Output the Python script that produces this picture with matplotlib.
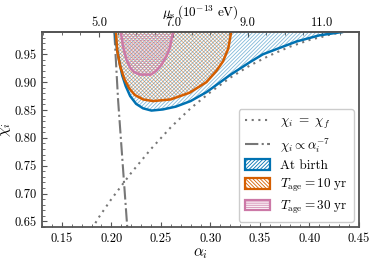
import matplotlib
matplotlib.use("Agg")
import matplotlib.pyplot as plt
from matplotlib.patches import Patch
from matplotlib.lines import Line2D
from matplotlib.ticker import MultipleLocator, AutoMinorLocator

plt.rcParams['font.family'] = 'serif'
plt.rcParams['font.serif'] = ['cmr10']
plt.rcParams['mathtext.fontset'] = 'cm'
plt.rcParams['axes.formatter.use_mathtext'] = True
plt.rcParams['hatch.linewidth'] = 0.6

# --- data ---
blue_alpha = [0.2035, 0.2055, 0.2080, 0.2110, 0.2145, 0.2190, 0.2250, 0.2320, 0.2405, 0.2520,
              0.2650, 0.2800, 0.2960, 0.3100, 0.3200, 0.3400, 0.3530, 0.3870, 0.4100, 0.4330]
blue_chi = [0.990, 0.962, 0.937, 0.912, 0.893, 0.875, 0.861, 0.853, 0.849, 0.851,
            0.856, 0.866, 0.882, 0.900, 0.913, 0.936, 0.950, 0.973, 0.984, 0.990]

orange_alpha = [0.2045, 0.2060, 0.2090, 0.2130, 0.2180, 0.2237, 0.2320, 0.2420, 0.2600,
                0.2790, 0.2960, 0.3060, 0.3128, 0.3180, 0.3210]
orange_chi = [0.990, 0.955, 0.928, 0.906, 0.889, 0.877, 0.869, 0.866, 0.869,
              0.881, 0.900, 0.920, 0.9375, 0.960, 0.990]

pink_alpha = [0.2095, 0.2120, 0.2153, 0.2190, 0.2230, 0.2290, 0.2400, 0.2450, 0.2506,
              0.2560, 0.2590, 0.2623]
pink_chi = [0.990, 0.962, 0.940, 0.926, 0.918, 0.9135, 0.9135, 0.920, 0.931,
            0.948, 0.961, 0.990]

dotted_alpha = [0.170, 0.178, 0.188, 0.200, 0.220, 0.240, 0.260, 0.280, 0.300, 0.320,
                0.340, 0.360, 0.380, 0.400, 0.420, 0.440, 0.460]
dotted_chi = [0.606, 0.630, 0.659, 0.690, 0.737, 0.780, 0.819, 0.853, 0.882, 0.908,
              0.930, 0.948, 0.9635, 0.9756, 0.985, 0.992, 0.997]

dashdot_alpha = [0.2030, 0.2068, 0.2126, 0.2160, 0.2170]
dashdot_chi = [0.990, 0.868, 0.725, 0.641, 0.620]

mu_ticks = [5.0, 7.0, 9.0, 11.0]
alpha_per_mu = 0.0375

blue = '#0072b2'
orange = '#d55e00'
pink = '#cc79a7'
gray = '#777777'
spine = '#555555'

HB = '/' * 9
HO = '\\' * 9
HP = '-' * 8

fig = plt.figure(figsize=(3.74, 2.60), dpi=100)
ax = fig.add_axes([42/374, 1 - 227/260, (359 - 42)/374, (227 - 32)/260])

top = 0.99
ax.fill_between(blue_alpha, blue_chi, top, facecolor='none', edgecolor=blue,
                alpha=0.5, hatch=HB, linewidth=0)
ax.fill_between(orange_alpha, orange_chi, top, facecolor='none', edgecolor=orange,
                alpha=0.5, hatch=HO, linewidth=0)
ax.fill_between(pink_alpha, pink_chi, top, facecolor='none', edgecolor=pink,
                alpha=0.6, hatch=HP, linewidth=0)

ax.plot(dotted_alpha, dotted_chi, linestyle=(0, (1, 2.2)), color=gray, lw=1.5)
ax.plot(dashdot_alpha, dashdot_chi, linestyle='-.', color=gray, lw=1.5)
ax.plot(blue_alpha, blue_chi, color=blue, lw=1.8)
ax.plot(orange_alpha, orange_chi, color=orange, lw=1.8)
ax.plot(pink_alpha, pink_chi, color=pink, lw=1.8)

ax.set_xlim(0.13, 0.45)
ax.set_ylim(0.64, 0.99)
ax.xaxis.set_major_locator(MultipleLocator(0.05))
ax.xaxis.set_minor_locator(MultipleLocator(0.01))
ax.yaxis.set_major_locator(MultipleLocator(0.05))
ax.yaxis.set_minor_locator(MultipleLocator(0.01))
ax.xaxis.set_major_formatter(plt.FormatStrFormatter('%.2f'))
ax.yaxis.set_major_formatter(plt.FormatStrFormatter('%.2f'))
ax.tick_params(which='both', direction='in', top=False, right=False,
               labelsize=9, color=spine, pad=4)
ax.tick_params(which='major', length=3.5)
ax.tick_params(which='minor', length=2)
for s in ax.spines.values():
    s.set_color(spine)
    s.set_linewidth(1.3)

ax.set_xlabel(r'$\alpha_i$', fontsize=11, labelpad=1)
ax.set_ylabel(r'$\chi_i$', fontsize=11, labelpad=1)

sec = ax.secondary_xaxis('top', functions=(lambda a: a / alpha_per_mu,
                                           lambda m: m * alpha_per_mu))
sec.set_xticks(mu_ticks)
sec.xaxis.set_major_formatter(plt.FormatStrFormatter('%.1f'))
sec.xaxis.set_minor_locator(AutoMinorLocator(4))
sec.tick_params(which='both', direction='in', labelsize=9, color=spine, pad=2)
sec.tick_params(which='major', length=3.5)
sec.tick_params(which='minor', length=2)
sec.spines['top'].set_color(spine)
sec.spines['top'].set_linewidth(1.3)
sec.set_xlabel(r'$\mu_s\,(10^{-13}\ \mathrm{eV})$', fontsize=9.5, labelpad=0.5)

handles = [
    Line2D([], [], linestyle=(0, (1, 2.2)), color=gray, lw=1.5),
    Line2D([], [], linestyle='-.', color=gray, lw=1.5),
    Patch(facecolor='white', edgecolor=blue, hatch=HB, lw=1.6),
    Patch(facecolor='white', edgecolor=orange, hatch=HO, lw=1.6),
    Patch(facecolor='white', edgecolor=pink, hatch=HP, lw=1.6),
]
labels = [r'$\chi_i \ =\ \chi_f$', r'$\chi_i \propto \alpha_i^{-7}$', 'At birth',
          r'$T_{\rm age} = 10\ \mathrm{yr}$', r'$T_{\rm age} = 30\ \mathrm{yr}$']
ax.legend(handles, labels, loc='lower right', fontsize=9.5, framealpha=1,
          borderaxespad=0.4, handlelength=1.9, handleheight=0.9,
          labelspacing=0.35, handletextpad=0.8, borderpad=0.45)

fig.savefig('out.png', dpi=100)
